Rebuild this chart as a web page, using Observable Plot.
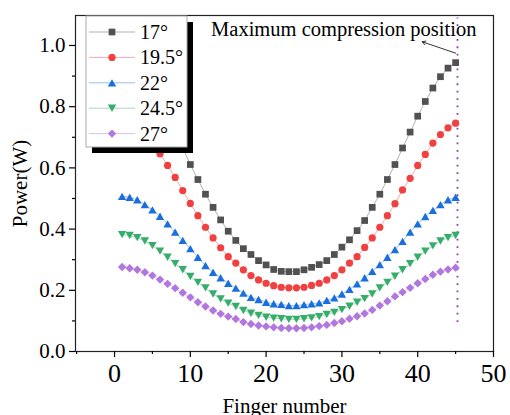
<!DOCTYPE html>
<html><head><meta charset="utf-8">
<script src="https://cdn.jsdelivr.net/npm/d3@7"></script>
<script src="https://cdn.jsdelivr.net/npm/@observablehq/plot@0.6"></script>
<style>
body{margin:0;background:#fff}
#wrap{position:relative;width:510px;height:415px;overflow:hidden}
</style>
</head><body><div id="wrap"></div>
<script>
const fingers = [1,2,3,4,5,6,7,8,9,10,11,12,13,14,15,16,17,18,19,20,21,22,23,24,25,26,27,28,29,30,31,32,33,34,35,36,37,38,39,40,41,42,43,44,45];
const seriesNames = ["17°","19.5°","22°","24.5°","27°"];
const p17 = [0.952,0.944,0.926,0.898,0.861,0.817,0.769,0.717,0.665,0.611,0.562,0.514,0.471,0.430,0.393,0.363,0.336,0.317,0.297,0.283,0.268,0.262,0.261,0.261,0.267,0.275,0.284,0.297,0.317,0.341,0.365,0.395,0.428,0.471,0.514,0.562,0.611,0.665,0.717,0.769,0.817,0.861,0.898,0.926,0.944];
const p195 = [0.752,0.746,0.731,0.709,0.681,0.646,0.608,0.569,0.526,0.484,0.444,0.406,0.371,0.339,0.310,0.289,0.267,0.248,0.234,0.223,0.215,0.210,0.208,0.208,0.210,0.216,0.223,0.234,0.248,0.267,0.289,0.310,0.340,0.371,0.406,0.444,0.483,0.528,0.566,0.608,0.644,0.681,0.709,0.731,0.746];
const p22 = [0.507,0.504,0.496,0.480,0.463,0.442,0.417,0.390,0.363,0.336,0.308,0.281,0.259,0.241,0.223,0.207,0.191,0.177,0.170,0.161,0.156,0.154,0.150,0.150,0.153,0.156,0.159,0.167,0.175,0.188,0.203,0.221,0.241,0.262,0.284,0.308,0.333,0.360,0.390,0.417,0.441,0.461,0.480,0.496,0.504];
const p245 = [0.382,0.379,0.372,0.361,0.346,0.328,0.308,0.287,0.267,0.245,0.226,0.208,0.188,0.172,0.158,0.147,0.134,0.125,0.118,0.112,0.109,0.107,0.105,0.105,0.107,0.110,0.114,0.121,0.128,0.137,0.148,0.161,0.173,0.188,0.208,0.226,0.246,0.267,0.287,0.308,0.328,0.345,0.361,0.372,0.379];
const p27 = [0.276,0.272,0.267,0.259,0.248,0.235,0.221,0.207,0.192,0.177,0.161,0.147,0.134,0.123,0.114,0.106,0.096,0.090,0.085,0.082,0.079,0.077,0.076,0.076,0.077,0.079,0.083,0.087,0.093,0.099,0.107,0.115,0.124,0.136,0.150,0.164,0.180,0.194,0.208,0.223,0.237,0.251,0.261,0.268,0.274];
const colors = ["#515151","#F14040","#1A6FDF","#37AD6B","#B177DE"];
const xTicks = [0,10,20,30,40,50];
const xMinor = [-5,5,15,25,35,45];
const yTicks = [0,0.2,0.4,0.6,0.8,1.0];
const yMinor = [0.1,0.3,0.5,0.7,0.9];
const annotText = ["Maximum compression position"];
const annotPos = {x: 47.75, y: 1.03};
const arrowPts = [{x1: 45.0, y1: 0.975, x2: 40.6, y2: 1.012}];
const ruleAt = [45.25];
const ruleSpan = {y1: 0.095, y2: 1.09};

const rOf = s => Math.sqrt(s / Math.PI);
const symSquare = {draw(c, s){ const h = rOf(s)*0.96; c.moveTo(-h,-h); c.lineTo(h,-h); c.lineTo(h,h); c.lineTo(-h,h); c.closePath(); }};
const symCircle = {draw(c, s){ const r = rOf(s)*1.03; c.moveTo(r,0); c.arc(0,0,r,0,2*Math.PI); c.closePath(); }};
const symTriUp = {draw(c, s){ const r = rOf(s); const w = r*1.2, h = r*1.05; c.moveTo(0,-h); c.lineTo(w,h); c.lineTo(-w,h); c.closePath(); }};
const symTriDown = {draw(c, s){ const r = rOf(s); const w = r*1.2, h = r*1.05; c.moveTo(0,h); c.lineTo(w,-h); c.lineTo(-w,-h); c.closePath(); }};
const symDiamond = {draw(c, s){ const r = rOf(s)*1.2; c.moveTo(0,-r); c.lineTo(r,0); c.lineTo(0,r); c.lineTo(-r,0); c.closePath(); }};
const symbols = [symSquare, symCircle, symTriUp, symTriDown, symDiamond];

const allSeries = [p17, p195, p22, p245, p27];
const marks = [];
allSeries.forEach((vals, i) => {
  const data = fingers.map((f, j) => ({x: f, y: vals[j]}));
  marks.push(Plot.line(data, {x: "x", y: "y", stroke: colors[i], strokeWidth: 1, strokeOpacity: 0.45}));
});
marks.push(Plot.ruleX(ruleAt, {y1: ruleSpan.y1, y2: ruleSpan.y2, stroke: "#8e3bb0", strokeWidth: 1.8, strokeDasharray: "1.8,5.6"}));
allSeries.forEach((vals, i) => {
  const data = fingers.map((f, j) => ({x: f, y: vals[j]}));
  marks.push(Plot.dot(data, {x: "x", y: "y", fill: colors[i], stroke: "none", r: 3.5, symbol: symbols[i]}));
});

const FONT = "'Liberation Serif','Times New Roman',serif";
const chart = Plot.plot({
  width: 510, height: 415,
  marginLeft: 75, marginRight: 17, marginTop: 15, marginBottom: 64,
  style: {fontFamily: FONT, fontSize: "20px", background: "#fff", color: "#000"},
  x: {domain: [-5.15, 50]},
  y: {domain: [0, 1.098]},
  marks: [
    ...marks,
    Plot.text(annotText, {x: annotPos.x, y: annotPos.y, text: d => d, textAnchor: "end", lineAnchor: "bottom", fontSize: 20.5, fill: "#000"}),
    Plot.arrow(arrowPts, {x1: "x1", y1: "y1", x2: "x2", y2: "y2", stroke: "#000", strokeWidth: 0.8, headLength: 7}),
    Plot.frame({stroke: "#222", strokeWidth: 1.2}),
    Plot.axisY(yTicks, {tickSize: 6, tickPadding: 4, fontSize: 21, tickFormat: d3.format(".1f"), label: null, stroke: "#000", strokeWidth: 1.2}),
    Plot.axisY(yMinor, {tickSize: 3, tickFormat: () => "", label: null, stroke: "#000", strokeWidth: 1.2}),
    Plot.axisX(xTicks, {tickSize: 6, tickPadding: 6, fontSize: 26, tickFormat: d3.format("d"), label: null, stroke: "#000", strokeWidth: 1.2}),
    Plot.axisX(xMinor, {tickSize: 3, tickFormat: () => "", label: null, stroke: "#000", strokeWidth: 1.2}),
    Plot.text(["Power(W)"], {frameAnchor: "left", dx: -55, rotate: -90, textAnchor: "middle", lineAnchor: "middle", fontSize: 21, fill: "#000"}),
    Plot.text(["Finger number"], {frameAnchor: "bottom", dy: 55, textAnchor: "middle", lineAnchor: "middle", fontSize: 21, fill: "#000"})
  ]
});
document.getElementById("wrap").appendChild(chart);

// Legend (inside plot area, top-left)
const svg = d3.select(chart);
const lg = svg.append("g").attr("transform", "translate(86,16)");
const LW = 101, LH = 131;
lg.append("rect").attr("x", 6).attr("y", 6).attr("width", LW).attr("height", LH).attr("fill", "#000");
lg.append("rect").attr("x", 0).attr("y", 0).attr("width", LW).attr("height", LH).attr("fill", "#fff").attr("stroke", "#aaa").attr("stroke-width", 1);
seriesNames.forEach((name, i) => {
  const cy = 16 + i * 25.4;
  lg.append("line").attr("x1", 3).attr("x2", 49).attr("y1", cy).attr("y2", cy).attr("stroke", colors[i]).attr("stroke-opacity", 0.45).attr("stroke-width", 1);
  lg.append("path").attr("transform", `translate(26,${cy})`).attr("d", d3.symbol(symbols[i], Math.PI * 3.5 * 3.5)()).attr("fill", colors[i]);
  lg.append("text").attr("x", 54).attr("y", cy).attr("dy", "0.35em")
    .attr("text-anchor", "start").style("text-anchor", "start")
    .style("font-size", "20px").style("font-family", FONT).attr("fill", "#000").text(name);
});
</script>
</body></html>
